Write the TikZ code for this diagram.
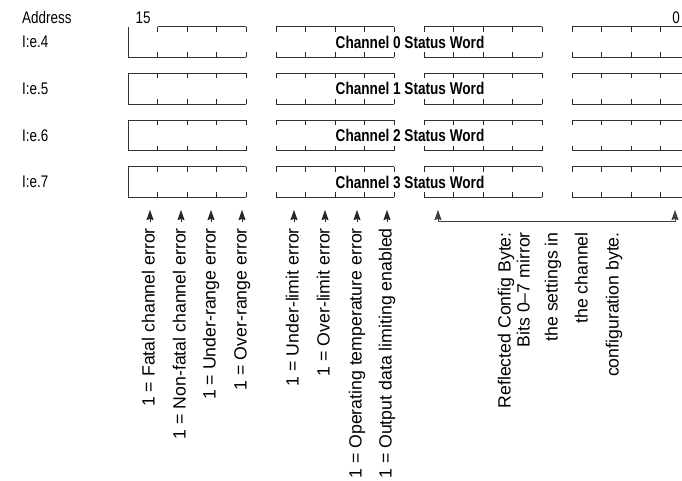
\documentclass[tikz,border=0pt]{standalone}
\usepackage{fontspec}
\setmainfont{Liberation Sans}
\newfontfamily\narrowfont[FakeStretch=0.8]{Liberation Sans}
\usetikzlibrary{arrows.meta}

\tikzset{
	addr/.style={font=\narrowfont\fontsize{16.8}{20}\selectfont, inner sep=0pt},
	word/.style={font=\narrowfont\bfseries\fontsize{17}{20}\selectfont, inner sep=0pt},
	bitlabel/.style={font=\fontsize{17.7}{20}\selectfont, rotate=90, anchor=mid east, inner sep=0pt},
	boxline/.style={line width=0.8pt, draw=black!80},
	tickline/.style={line width=1pt, draw=black!85},
	bitarrow/.style={line width=0.8pt, draw=black!85, -{Stealth[length=10pt,width=7pt,inset=1pt]}},
	cfgarrow/.style={line width=0.8pt, draw=black!75, {Stealth[length=10pt,width=7pt,inset=1pt]}-{Stealth[length=10pt,width=7pt,inset=1pt]}}
}

\begin{document}
\begin{tikzpicture}[x=1pt,y=-1pt]
	\useasboundingbox (0,0) rectangle (682,480);
	
	% header
	\node (addr)[addr,anchor=base west] at (22,23) {Address};
	\node (msb)[addr,anchor=base] at (143,23) {15};
	\node (lsb)[addr,anchor=base] at (676,23) {0};
	
	% the four status words
	\foreach \r in {0,...,3}{
		\pgfmathsetmacro\yt{26.7+46.67*\r}
		\pgfmathsetmacro\yb{\yt+30.7}
		\foreach \s in {0,...,3}{
			\pgfmathsetmacro\xa{128+148*\s}
			\pgfmathsetmacro\xb{\xa+118.4}
			\pgfmathsetmacro\xs{(\r==0 && \s==0) ? 157.6 : \xa}
			\draw[boxline] (\xs,\yt) -- (\xb,\yt);
			\draw[boxline] (\xa,\yb) -- (\xb,\yb);
			\foreach \k in {0,...,4}{
				\draw[tickline] (\xa+29.6*\k,\yt) -- ++(0,5);
				\draw[tickline] (\xa+29.6*\k,\yb) -- ++(0,-5);
			}
		}
		\draw[boxline] (128,\yt) -- (128,\yb);
	}
	
	\node (row0)[addr,anchor=west] at (22,42) {I:e.4};
	\node (row1)[addr,anchor=west] at (22,88.7) {I:e.5};
	\node (row2)[addr,anchor=west] at (22,135.4) {I:e.6};
	\node (row3)[addr,anchor=west] at (22,182) {I:e.7};
	
	\node (word0)[word] at (410,42) {Channel 0 Status Word};
	\node (word1)[word] at (410,88.7) {Channel 1 Status Word};
	\node (word2)[word] at (410,135.4) {Channel 2 Status Word};
	\node (word3)[word] at (410,182) {Channel 3 Status Word};
	
	% bit arrows
	\foreach \x [count=\i] in {150,181,211,242,294,325,357,387}{
		\coordinate (base\i) at (\x,222);
		\coordinate (tip\i) at (\x,210);
		\draw[bitarrow] (base\i) -- (tip\i);
	}
	
	\node (fatal)[bitlabel] at (152,228) {1 = Fatal channel error};
	\node (nonfatal)[bitlabel] at (183,228) {1 = Non-fatal channel error};
	\node (under)[bitlabel] at (213,228) {1 = Under-range error};
	\node (over)[bitlabel] at (244,228) {1 = Over-range error};
	\node (ulimit)[bitlabel] at (296,228) {1 = Under-limit error};
	\node (olimit)[bitlabel] at (327,228) {1 = Over-limit error};
	\node (temp)[bitlabel] at (359,228) {1 = Operating temperature error};
	\node (limit)[bitlabel] at (389,228) {1 = Output data limiting enabled};
	
	% config byte bracket
	\coordinate (cfgtl) at (438,210);
	\coordinate (cfgl) at (438,221);
	\coordinate (cfgr) at (675,221);
	\coordinate (cfgtr) at (675,210);
	\draw[cfgarrow] (cfgtl) -- (cfgl) -- (cfgr) -- (cfgtr);
	
	\node (cfg1)[bitlabel] at (508,232) {Reflected Config Byte:};
	\node (cfg2)[bitlabel] at (527,232) {Bits 0–7 mirror};
	\node (cfg3)[bitlabel] at (555,232) {the settings in};
	\node (cfg4)[bitlabel] at (585,232) {the channel};
	\node (cfg5)[bitlabel] at (616,232) {configuration byte.};
\end{tikzpicture}
\end{document}
